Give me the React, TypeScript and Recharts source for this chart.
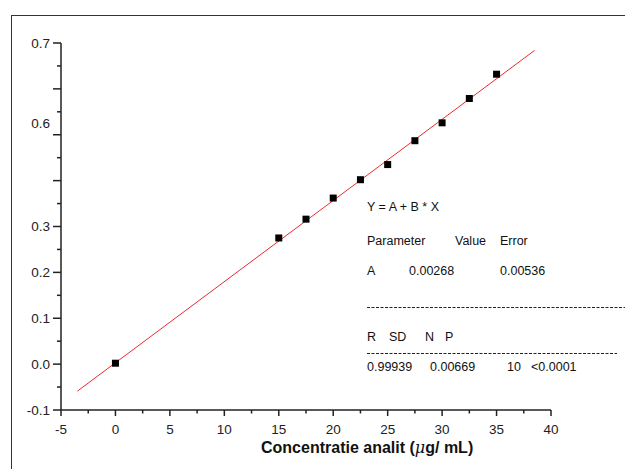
import { ComposedChart, XAxis, YAxis, Scatter, Line } from 'recharts'

// calibration points
const concentrations = [0, 15, 17.5, 20, 22.5, 25, 27.5, 30, 32.5, 35]
const absorbances = [0.002, 0.275, 0.316, 0.362, 0.402, 0.435, 0.487, 0.526, 0.579, 0.632]

// ends of the fitted line
const fitX = [-3.5, 38.5]
const fitY = [-0.059, 0.684]

const xTicks = [-5, -2.5, 0, 2.5, 5, 7.5, 10, 12.5, 15, 17.5, 20, 22.5, 25, 27.5, 30, 32.5, 35, 37.5, 40]
const yTicks = [-0.1, -0.05, 0, 0.05, 0.1, 0.15, 0.2, 0.25, 0.3, 0.35, 0.4, 0.45, 0.5, 0.525, 0.55, 0.6, 0.65, 0.7]
const yLabelValues = [-0.1, 0, 0.1, 0.2, 0.3, 0.525, 0.7]
const yLabelTexts = ['-0.1', '0.0', '0.1', '0.2', '0.3', '0.6', '0.7']

const points = concentrations.map((x, i) => ({ x, y: absorbances[i] }))
const fitLine = fitX.map((x, i) => ({ x, y: fitY[i] }))

const font = '"Liberation Sans", Arial, sans-serif'
const ink = '#222'

const near = (a: number, b: number) => Math.abs(a - b) < 1e-6

function XTick({ x, y, payload }: any) {
  const v = payload.value
  const major = near(v / 5, Math.round(v / 5))
  return (
    <g>
      <line x1={x} x2={x} y1={y} y2={y + (major ? 6 : 3.5)} stroke={ink} strokeWidth={1.5} />
      {major && (
        <text x={x} y={y + 19} dy="0.35em" textAnchor="middle" fontSize={13.5} fontFamily={font} fill={ink}>
          {v}
        </text>
      )}
    </g>
  )
}

function YTick({ x, y, payload }: any) {
  const v = payload.value
  const onGrid = near(v * 20, Math.round(v * 20))
  const major = onGrid && near(v * 10, Math.round(v * 10))
  const idx = yLabelValues.findIndex((l) => near(l, v))
  return (
    <g>
      {onGrid && <line x1={x} x2={x - (major ? 8 : 4)} y1={y} y2={y} stroke={ink} strokeWidth={1.5} />}
      {idx >= 0 && (
        <text x={x - 11} y={y} dy="0.35em" textAnchor="end" fontSize={13.5} fontFamily={font} fill={ink}>
          {yLabelTexts[idx]}
        </text>
      )}
    </g>
  )
}

const Square = ({ cx, cy }: any) => <rect x={cx - 3.5} y={cy - 3.5} width={7} height={7} fill="#000" />

export default function App() {
  const t = { fontFamily: font, fontSize: 12.5, fill: '#111' }
  return (
    <div style={{ position: 'absolute', left: 0, top: 0, width: 625, height: 469, background: '#fff' }}>
      <ComposedChart width={625} height={469} margin={{ top: 43, right: 74, bottom: 19, left: 0 }}>
        <XAxis
          type="number"
          dataKey="x"
          domain={[-5, 40]}
          ticks={xTicks}
          interval={0}
          height={40}
          tickSize={0}
          tickMargin={0}
          tickLine={false}
          axisLine={{ stroke: ink, strokeWidth: 1.5 }}
          tick={<XTick />}
        />
        <YAxis
          type="number"
          dataKey="y"
          domain={[-0.1, 0.7]}
          ticks={yTicks}
          interval={0}
          width={61}
          tickSize={0}
          tickMargin={0}
          tickLine={false}
          axisLine={{ stroke: ink, strokeWidth: 1.5 }}
          tick={<YTick />}
        />
        <Line
          data={fitLine}
          dataKey="y"
          type="linear"
          stroke="#ee2a2a"
          strokeWidth={1}
          dot={false}
          isAnimationActive={false}
        />
        <Scatter data={points} dataKey="y" shape={<Square />} isAnimationActive={false} />
      </ComposedChart>

      <svg width={625} height={469} style={{ position: 'absolute', left: 0, top: 0, pointerEvents: 'none' }}>
        <line x1={11.5} x2={11.5} y1={15} y2={469} stroke="#333" strokeWidth={1} />
        <line x1={11} x2={625} y1={15.5} y2={15.5} stroke="#333" strokeWidth={1} />

        <text x={261} y={447} dy="0.35em" fontFamily={font} fontSize={16} fontWeight="bold" fill="#111">
          Concentratie analit (<tspan fontStyle="italic" fontWeight="normal" fontFamily="'DejaVu Serif', serif">μ</tspan>g/ mL)
        </text>

        <g {...t}>
          <text x={367} y={207} dy="0.35em">Y = A + B * X</text>
          <text x={367} y={241} dy="0.35em">Parameter</text>
          <text x={455} y={241} dy="0.35em">Value</text>
          <text x={500} y={241} dy="0.35em">Error</text>
          <text x={367} y={271} dy="0.35em">A</text>
          <text x={409} y={271} dy="0.35em">0.00268</text>
          <text x={500} y={271} dy="0.35em">0.00536</text>
          <text x={367} y={337} dy="0.35em">R</text>
          <text x={389} y={337} dy="0.35em">SD</text>
          <text x={425} y={337} dy="0.35em">N</text>
          <text x={445} y={337} dy="0.35em">P</text>
          <text x={367} y={367} dy="0.35em">0.99939</text>
          <text x={430} y={367} dy="0.35em">0.00669</text>
          <text x={507} y={367} dy="0.35em">10</text>
          <text x={531} y={367} dy="0.35em">&lt;0.0001</text>
        </g>
        <line x1={367} x2={625} y1={307.5} y2={307.5} stroke="#222" strokeWidth={1} strokeDasharray="3 1.5" />
        <line x1={367} x2={617} y1={353.5} y2={353.5} stroke="#222" strokeWidth={1} strokeDasharray="3 1.5" />
      </svg>
    </div>
  )
}
